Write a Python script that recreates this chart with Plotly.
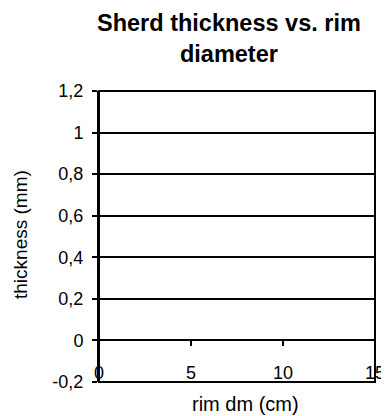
import plotly.graph_objects as go

# no sherd measurements are plotted in the source chart, only the empty frame
rim_diameter = []
thickness = []

x_ticks = [0, 5, 10, 15]
x_labels = ["0", "5", "10", "15"]
y_ticks = [-0.2, 0, 0.2, 0.4, 0.6, 0.8, 1.0, 1.2]
y_labels = ["-0,2", "0", "0,2", "0,4", "0,6", "0,8", "1", "1,2"]
y_range = [-0.2, 1.2]
x_range = [0, 15]

font = "Arial, Liberation Sans, sans-serif"

# where y=0 sits inside the plot area, so the x axis can cross there
zero_pos = (0 - y_range[0]) / (y_range[1] - y_range[0])

# the page body has an 8px margin, so the figure is shrunk by that much
page_pad = 8

fig = go.Figure()
fig.add_trace(
    go.Scatter(
        x=rim_diameter,
        y=thickness,
        mode="markers",
        marker={"color": "black"},
        showlegend=False,
    )
)

fig.update_layout(
    width=389 - page_pad,
    height=416 - page_pad,
    margin={"l": 99 - page_pad, "r": 14, "t": 91 - page_pad, "b": 34},
    paper_bgcolor="white",
    plot_bgcolor="white",
    font={"family": font, "color": "black", "size": 18},
    xaxis={
        "range": x_range,
        "tickvals": x_ticks,
        "ticktext": x_labels,
        "ticks": "outside",
        "ticklen": 5,
        "tickwidth": 2,
        "tickcolor": "black",
        "showgrid": False,
        "zeroline": False,
        "showline": True,
        "linecolor": "black",
        "linewidth": 2,
        "anchor": "free",
        "position": zero_pos,
        "ticklabelstandoff": 11,
        "tickfont": {"size": 18},
        "automargin": False,
    },
    yaxis={
        "range": y_range,
        "tickvals": y_ticks,
        "ticktext": y_labels,
        "ticks": "outside",
        "ticklen": 5,
        "tickwidth": 2,
        "tickcolor": "black",
        "showgrid": True,
        "gridcolor": "black",
        "gridwidth": 2,
        "zeroline": False,
        "showline": True,
        "linecolor": "black",
        "linewidth": 2,
        "ticklabelstandoff": 5,
        "tickfont": {"size": 18},
        "automargin": False,
    },
)

# chart title
fig.add_annotation(
    text="<b>Sherd thickness vs. rim<br>diameter</b>",
    font={"size": 23.5},
    xref="paper",
    yref="paper",
    x=(229 - 99) / (375 - 99),
    y=1 + 83 / 291,
    xanchor="center",
    yanchor="top",
    showarrow=False,
)

# axis titles
fig.add_annotation(
    text="thickness (mm)",
    font={"size": 19},
    xref="paper",
    yref="paper",
    x=-(99 - 20) / (375 - 99),
    y=(382 - 235) / 291,
    textangle=-90,
    xanchor="center",
    yanchor="middle",
    borderpad=0,
    showarrow=False,
)
fig.add_annotation(
    text="rim dm (cm)",
    font={"size": 20},
    xref="paper",
    yref="paper",
    x=(245 - 99) / (375 - 99),
    y=-(404 - 382) / 291,
    xanchor="center",
    yanchor="middle",
    showarrow=False,
)

# plot area border
fig.add_shape(
    type="rect",
    xref="paper",
    yref="paper",
    x0=0,
    x1=1,
    y0=0,
    y1=1,
    line={"color": "black", "width": 2},
)

fig.write_html("out.html")
